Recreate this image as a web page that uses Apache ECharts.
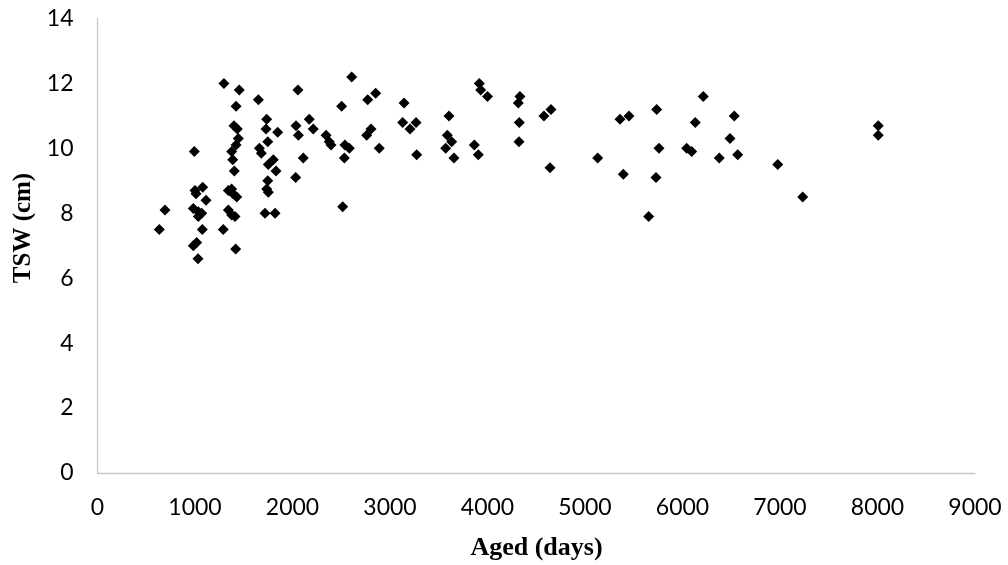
<!DOCTYPE html>
<html>
<head>
<meta charset="utf-8">
<script src="https://cdn.jsdelivr.net/npm/echarts@6/dist/echarts.min.js"></script>
<style>
  html, body { margin: 0; padding: 0; background: #fff; }
  #chart { width: 1008px; height: 565px; }
</style>
</head>
<body>
<div id="chart"></div>
<script>
// Age of each animal (days) and its TSW measurement (cm)
const agedDays = [
  634, 692, 993, 1000, 1010, 1079, 1113, 983, 1034, 1069,
  1034, 1075, 1017, 983, 1031, 1290, 1417, 1342, 1376, 1390,
  1428, 1342, 1376, 1410, 1403, 1387, 1376, 1421, 1444, 1434,
  1400, 1421, 1454, 1297, 1650, 1660, 1680, 1735, 1728, 1848,
  1746, 1803, 1752, 1831, 1746, 1735, 1752, 1718, 1821, 2056,
  2036, 2060, 2172, 2110, 2033, 2213, 2344, 2377, 2395, 2538,
  2583, 2532, 2504, 2607, 2515, 2771, 2853, 2761, 2805, 2890,
  3144, 3130, 3267, 3205, 3274, 3605, 3588, 3633, 3571, 3656,
  3865, 3906, 3916, 3930, 4000, 4333, 4316, 4326, 4323, 4651,
  4579, 4641, 5130, 5359, 5451, 5393, 5735, 5759, 5728, 5653,
  6213, 6131, 6043, 6094, 6377, 6487, 6531, 6566, 6977, 7233,
  8008, 8008
];
const tswCm = [
  7.5, 8.1, 9.9, 8.7, 8.6, 8.8, 8.4, 8.15, 8.05, 8.0,
  7.9, 7.5, 7.1, 7.0, 6.6, 7.5, 6.9, 8.7, 8.75, 8.6,
  8.5, 8.1, 7.95, 7.9, 9.3, 9.65, 9.9, 10.1, 10.3, 10.6,
  10.7, 11.3, 11.8, 12.0, 11.5, 10.0, 9.85, 10.9, 10.6, 10.5,
  10.2, 9.65, 9.5, 9.3, 9.0, 8.75, 8.65, 8.0, 8.0, 11.8,
  10.7, 10.4, 10.9, 9.7, 9.1, 10.6, 10.4, 10.2, 10.1, 10.1,
  10.0, 9.7, 11.3, 12.2, 8.2, 11.5, 11.7, 10.4, 10.6, 10.0,
  11.4, 10.8, 10.8, 10.6, 9.8, 11.0, 10.4, 10.2, 10.0, 9.7,
  10.1, 9.8, 12.0, 11.8, 11.6, 11.6, 11.4, 10.8, 10.2, 11.2,
  11.0, 9.4, 9.7, 10.9, 11.0, 9.2, 11.2, 10.0, 9.1, 7.9,
  11.6, 10.8, 10.0, 9.9, 9.7, 10.3, 11.0, 9.8, 9.5, 8.5,
  10.7, 10.4
];

const xTitle = 'Aged (days)';
const yTitle = 'TSW (cm)';

const points = agedDays.map((d, i) => [d, tswCm[i]]);

const labelFont = 'Lato, "Open Sans", sans-serif';
const titleFont = '"Liberation Serif", "DejaVu Serif", serif';

const chart = echarts.init(document.getElementById('chart'), null, { renderer: 'canvas' });
chart.setOption({
  animation: false,
  backgroundColor: '#ffffff',
  grid: { left: 97.5, right: 33, top: 18.5, bottom: 92, containLabel: false },
  xAxis: {
    type: 'value',
    min: 0, max: 9000, interval: 1000,
    axisLine: { show: true, lineStyle: { color: '#c8c8c8', width: 1.3 } },
    axisTick: { show: false },
    splitLine: { show: false },
    axisLabel: {
      margin: 23, fontFamily: labelFont, fontSize: 23, color: '#000',
      formatter: v => String(v)
    }
  },
  yAxis: {
    type: 'value',
    min: 0, max: 14, interval: 2,
    axisLine: { show: true, lineStyle: { color: '#c8c8c8', width: 1.3 } },
    axisTick: { show: false },
    splitLine: { show: false },
    axisLabel: {
      margin: 24, fontFamily: labelFont, fontSize: 23, color: '#000',
      formatter: v => String(v)
    }
  },
  graphic: [{
    type: 'text',
    x: 24, y: 228,
    rotation: Math.PI / 2,
    style: {
      text: yTitle,
      fontFamily: titleFont, fontWeight: 'bold', fontSize: 25,
      fill: '#000', align: 'center', verticalAlign: 'middle'
    }
  }, {
    type: 'text',
    x: 536.5, y: 548,
    style: {
      text: xTitle,
      fontFamily: titleFont, fontWeight: 'bold', fontSize: 26,
      fill: '#000', align: 'center', verticalAlign: 'middle'
    }
  }],
  series: [{
    type: 'scatter',
    data: points,
    symbol: 'diamond',
    symbolSize: 11,
    itemStyle: { color: '#000', opacity: 1 }
  }]
});
</script>
</body>
</html>
